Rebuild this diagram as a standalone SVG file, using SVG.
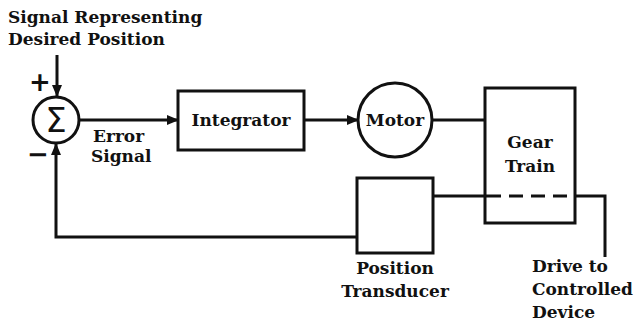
<svg xmlns="http://www.w3.org/2000/svg" width="641" height="324" viewBox="0 0 641 324">
<style>
.s{fill:none;stroke:#111;stroke-width:3}
.t{font-family:"DejaVu Serif","Liberation Serif",serif;font-weight:bold;font-size:17px;fill:#111}
.m{text-anchor:middle}
.sym{font-family:"DejaVu Sans","Liberation Sans",sans-serif;fill:#111;text-anchor:middle}
</style>
<defs>
<marker id="a" markerWidth="12" markerHeight="10" refX="11" refY="5" orient="auto" markerUnits="userSpaceOnUse">
<path d="M0,0 L12,5 L0,10 Z" fill="#111"/>
</marker>
</defs>
<rect width="641" height="324" fill="#fff"/>
<g id="input-label">
<text class="t" x="8" y="23">Signal Representing</text>
<text class="t" x="8" y="45">Desired Position</text>
</g>
<g id="sum">
<circle class="s" cx="56" cy="120" r="23"/>
<text class="sym" x="56" y="132" style="font-size:34px">Σ</text>
<text class="sym" x="40" y="91" style="font-size:26px;font-weight:bold">+</text>
<text class="sym" x="38" y="163" style="font-size:26px;font-weight:bold">−</text>
</g>
<g id="integrator">
<rect class="s" x="178" y="91" width="126" height="59"/>
<text class="t m" x="241" y="126">Integrator</text>
</g>
<g id="motor">
<circle class="s" cx="395" cy="120" r="37"/>
<text class="t m" x="395" y="126">Motor</text>
</g>
<g id="gear-train">
<rect class="s" x="485" y="88" width="90" height="135"/>
<text class="t m" x="530" y="148">Gear</text>
<text class="t m" x="530" y="172">Train</text>
<line class="s" x1="487" y1="196" x2="575" y2="196" stroke-dasharray="14,8"/>
</g>
<g id="position-transducer">
<rect class="s" x="357" y="178" width="76" height="75"/>
<text class="t m" x="395" y="274">Position</text>
<text class="t m" x="395" y="297">Transducer</text>
</g>
<g id="output-label">
<text class="t" x="532" y="272">Drive to</text>
<text class="t" x="532" y="295">Controlled</text>
<text class="t" x="532" y="318">Device</text>
</g>
<g id="error-label">
<text class="t" x="93" y="142">Error</text>
<text class="t" x="91" y="162">Signal</text>
</g>
<g id="connectors">
<line class="s" x1="57" y1="55" x2="57" y2="96" marker-end="url(#a)"/>
<line class="s" x1="79" y1="120" x2="178" y2="120" marker-end="url(#a)"/>
<line class="s" x1="304" y1="120" x2="358" y2="120" marker-end="url(#a)"/>
<line class="s" x1="432" y1="120" x2="485" y2="120"/>
<line class="s" x1="433" y1="196" x2="487" y2="196"/>
<polyline class="s" points="575,196 605,196 605,257"/>
<polyline class="s" points="357,237 56,237 56,144" marker-end="url(#a)"/>
</g>
</svg>
